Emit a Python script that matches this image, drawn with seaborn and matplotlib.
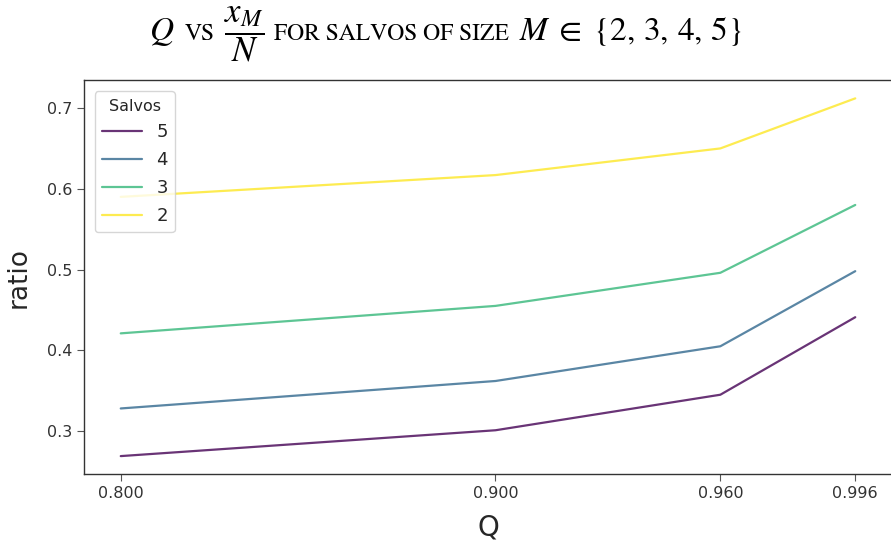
import matplotlib
matplotlib.use("Agg")
import matplotlib.pyplot as plt
from matplotlib.offsetbox import TextArea, HPacker, AnchoredOffsetbox
import pandas as pd
import seaborn as sns

# Q values (x axis) and ratio x_M / N for each salvo size M
q_values = [0.800, 0.900, 0.960, 0.996]
salvo_sizes = ["5", "4", "3", "2"]
ratio_m5 = [0.269, 0.301, 0.345, 0.441]
ratio_m4 = [0.328, 0.362, 0.405, 0.498]
ratio_m3 = [0.421, 0.455, 0.496, 0.580]
ratio_m2 = [0.590, 0.617, 0.650, 0.712]
xtick_labels = ["0.800", "0.900", "0.960", "0.996"]

series = {"5": ratio_m5, "4": ratio_m4, "3": ratio_m3, "2": ratio_m2}
df = pd.DataFrame(
    [(q, r, m) for m in salvo_sizes for q, r in zip(q_values, series[m])],
    columns=["Q", "ratio", "Salvos"],
)

sns.set_style("white")
plt.rcParams["font.family"] = ["DejaVu Sans"]
plt.rcParams["mathtext.fontset"] = "stix"

viridis = matplotlib.colormaps["viridis"]
palette = [viridis(v) for v in (0.0, 1 / 3, 2 / 3, 1.0)]

fig = plt.figure(figsize=(8.91, 5.46), dpi=100)
ax = fig.add_axes([0.0943, 0.1319, 0.9068, 0.7207])

sns.lineplot(
    data=df, x="Q", y="ratio", hue="Salvos", hue_order=salvo_sizes,
    palette=palette, alpha=0.8, linewidth=1.6, ax=ax,
)

ax.set_xticks(q_values)
ax.set_xticklabels(xtick_labels)
ax.set_yticks([0.3, 0.4, 0.5, 0.6, 0.7])
ax.tick_params(axis="both", labelsize=11.5, colors="#333333", length=5,
               direction="out", left=True, bottom=True)
ax.tick_params(axis="both", color="#555555")
ax.set_xlabel("Q", fontsize=20, labelpad=9)
ax.set_ylabel("ratio", fontsize=19, labelpad=11)
for s in ax.spines.values():
    s.set_color("#333333")
    s.set_linewidth(1.0)

leg = ax.legend(title="Salvos", loc="upper left", fontsize=13,
                title_fontsize=11.5, framealpha=0.8, handlelength=2.2,
                labelspacing=0.55, borderaxespad=0.6)

# Title with small-caps words in a serif face
big = 24
small = 17
serif = dict(family="STIXGeneral", color="black")
parts = [
    TextArea(r"$Q$", textprops=dict(size=big, **serif)),
    TextArea("VS", textprops=dict(size=small, **serif)),
    TextArea(r"$\dfrac{x_M}{N}$", textprops=dict(size=big + 1, **serif)),
    TextArea("FOR SALVOS OF SIZE", textprops=dict(size=small, **serif)),
    TextArea(r"$M\;\in\;\{2,\, 3,\, 4,\, 5\}$", textprops=dict(size=big, **serif)),
]
title_box = HPacker(children=parts, align="baseline", pad=0, sep=7)
anchored = AnchoredOffsetbox(
    loc="center", child=title_box, frameon=False,
    bbox_to_anchor=(0.5, 0.937), bbox_transform=fig.transFigure, pad=0,
)
fig.add_artist(anchored)

fig.savefig("out.png", dpi=100)
